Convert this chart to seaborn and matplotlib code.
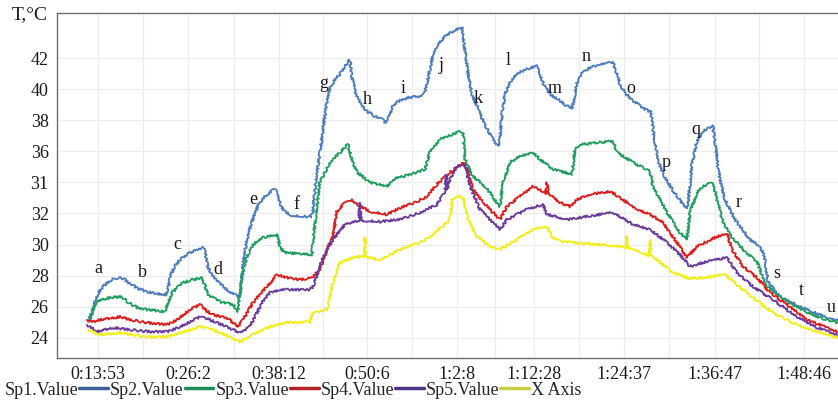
import numpy as np
import pandas as pd
import seaborn as sns
import matplotlib.pyplot as plt
from matplotlib.lines import Line2D

# Sensor readings: elapsed time (s) and temperature (°C)
t_sp1 = [753, 777, 801, 833, 874, 930, 995, 1043, 1067, 1107, 1156, 1228, 1309, 1382, 1398, 1422,
         1462, 1511, 1575, 1640, 1680, 1696, 1720, 1761, 1817, 1882, 1938, 1970, 1986, 2003, 2035,
         2075, 2124, 2180, 2236, 2261, 2285, 2309, 2341, 2398, 2478, 2551, 2567, 2591, 2615, 2640,
         2672, 2704, 2752, 2801, 2849, 2865, 2881, 2914, 2954, 3002, 3067, 3123, 3156, 3180, 3212,
         3269, 3349, 3430, 3470, 3494, 3527, 3575, 3640, 3704, 3769, 3785, 3818, 3849, 3898, 3954,
         4010, 4059, 4075, 4091, 4115, 4156, 4220, 4293, 4373, 4398, 4430, 4478, 4543, 4607, 4656,
         4672, 4696, 4744, 4825, 4906, 4986, 5010, 5043, 5091, 5164, 5244, 5293, 5309, 5333, 5365,
         5414, 5470, 5526, 5583, 5599, 5623, 5663, 5712, 5768, 5792, 5817, 5849, 5889, 5970, 6091,
         6172, 6204, 6236, 6333, 6494, 6655, 6801]
sp1 = [25.03, 25.29, 26.13, 26.84, 27.29, 27.68, 27.87, 27.81, 27.61, 27.42, 27.16, 26.97, 26.84,
       26.77, 27.10, 28.13, 28.71, 29.16, 29.48, 29.68, 29.81, 29.55, 28.52, 27.94, 27.48, 27.03,
       26.77, 26.58, 27.10, 28.84, 30.32, 31.48, 32.52, 33.10, 33.48, 33.55, 33.23, 32.45, 32.13,
       31.87, 31.81, 31.81, 32.13, 34.19, 35.48, 36.97, 38.84, 40.13, 40.65, 41.16, 41.74, 41.87,
       40.77, 39.68, 39.03, 38.58, 38.26, 38.06, 37.81, 38.19, 38.97, 39.29, 39.48, 39.55, 39.81,
       40.65, 41.94, 42.90, 43.48, 43.74, 44.00, 42.90, 40.97, 39.68, 38.71, 37.68, 36.90, 36.32,
       36.77, 38.39, 39.68, 40.45, 41.03, 41.29, 41.48, 40.97, 40.26, 39.68, 39.35, 38.97, 38.71,
       39.35, 40.39, 41.10, 41.48, 41.61, 41.74, 41.16, 40.32, 39.68, 39.16, 38.71, 38.52, 37.42,
       36.13, 35.03, 34.19, 33.48, 32.84, 32.32, 33.23, 35.16, 36.65, 37.29, 37.55, 37.61, 36.13,
       34.19, 32.90, 31.61, 30.32, 29.87, 29.35, 27.61, 26.65, 26.00, 25.48, 25.10]

t_sp2 = [753, 785, 809, 849, 930, 1027, 1067, 1148, 1228, 1374, 1398, 1438, 1519, 1599, 1672, 1688,
         1720, 1817, 1922, 1962, 1994, 2035, 2083, 2164, 2277, 2301, 2341, 2438, 2559, 2567, 2591,
         2623, 2704, 2785, 2849, 2881, 2922, 3027, 3164, 3212, 3406, 3470, 3510, 3591, 3753, 3777,
         3793, 3857, 3938, 3994, 4059, 4075, 4099, 4156, 4236, 4341, 4398, 4502, 4656, 4680, 4744,
         4881, 4986, 5018, 5147, 5285, 5309, 5422, 5526, 5583, 5607, 5663, 5712, 5784, 5817, 5865,
         5930, 6051, 6147, 6172, 6212, 6333, 6494, 6655, 6801]
sp2 = [25.10, 25.61, 26.13, 26.45, 26.58, 26.65, 26.32, 25.94, 25.81, 25.68, 26.26, 26.97, 27.55,
       27.74, 27.87, 27.55, 26.77, 26.32, 26.13, 25.68, 27.94, 29.23, 30.00, 30.45, 30.65, 29.81,
       29.48, 29.42, 29.35, 30.13, 31.94, 34.00, 35.29, 35.93, 36.45, 35.48, 34.65, 34.00, 33.74,
       34.19, 34.65, 34.84, 35.93, 36.77, 37.29, 37.23, 35.48, 34.39, 33.87, 33.35, 32.58, 32.45,
       34.00, 35.29, 35.68, 35.93, 35.48, 34.84, 34.52, 36.13, 36.45, 36.58, 36.65, 35.93, 35.29,
       34.71, 33.74, 32.06, 30.77, 30.32, 32.06, 33.35, 33.74, 34.00, 33.23, 31.61, 30.65, 29.55,
       28.90, 28.39, 27.42, 26.65, 25.87, 25.29, 24.97]

t_sp3 = [745, 793, 849, 1011, 1091, 1228, 1390, 1470, 1575, 1656, 1696, 1761, 1874, 1962, 2003,
         2083, 2196, 2277, 2357, 2462, 2559, 2623, 2680, 2728, 2760, 2809, 2881, 2922, 3027, 3164,
         3244, 3406, 3486, 3567, 3672, 3777, 3818, 3857, 3970, 4075, 4131, 4236, 4341, 4422, 4446,
         4454, 4462, 4559, 4640, 4696, 4801, 4962, 5043, 5147, 5285, 5389, 5502, 5583, 5663, 5825,
         5906, 5946, 6035, 6147, 6252, 6414, 6551, 6712, 6801]
sp3 = [25.16, 25.03, 25.16, 25.35, 25.16, 24.97, 24.84, 25.16, 25.81, 26.13, 25.81, 25.48, 25.29,
       24.71, 25.16, 26.26, 27.29, 28.06, 27.87, 27.74, 27.87, 28.39, 29.68, 30.52, 32.13, 32.58,
       32.90, 32.58, 32.13, 31.94, 32.26, 32.77, 33.10, 33.87, 34.65, 35.29, 34.65, 33.55, 32.45,
       31.61, 32.45, 33.10, 33.74, 33.42, 33.30, 34.00, 33.25, 32.71, 32.45, 32.90, 33.23, 33.42,
       33.03, 32.39, 31.94, 31.42, 30.13, 29.16, 29.87, 30.52, 30.65, 29.68, 28.58, 27.87, 26.90,
       26.00, 25.16, 24.65, 24.39]

t_sp4 = [745, 825, 954, 1091, 1253, 1390, 1495, 1656, 1736, 1874, 1978, 2059, 2156, 2220, 2301,
         2543, 2567, 2648, 2728, 2825, 2938, 2946, 2954, 3107, 3269, 3430, 3567, 3632, 3640, 3648,
         3672, 3728, 3793, 3834, 3914, 4075, 4131, 4293, 4422, 4454, 4615, 4776, 4986, 5043, 5147,
         5285, 5422, 5526, 5607, 5744, 5906, 5986, 6115, 6276, 6470, 6631, 6801]
sp4 = [24.84, 24.39, 24.65, 24.52, 24.39, 24.39, 24.71, 25.35, 25.16, 24.71, 24.32, 24.71, 26.26,
       26.90, 27.10, 27.10, 27.29, 29.16, 30.32, 31.29, 31.55, 32.70, 31.55, 31.48, 31.61, 32.06,
       32.58, 33.40, 34.50, 33.55, 34.19, 35.03, 35.16, 33.74, 32.26, 30.97, 31.61, 32.26, 32.58,
       31.94, 31.61, 31.81, 32.06, 31.81, 31.29, 30.97, 30.13, 29.35, 28.60, 28.90, 29.16, 28.19,
       27.29, 26.45, 25.35, 24.65, 24.19]

t_sp5 = [753, 849, 1011, 1228, 1390, 1495, 1656, 1761, 1898, 1978, 2115, 2220, 2357, 2543, 2567,
         2680, 2728, 2785, 2922, 2978, 2986, 2994, 3107, 3269, 3430, 3535, 3672, 3688, 3728, 3777,
         3818, 3890, 3994, 4075, 4212, 4341, 4454, 4494, 4559, 4881, 5043, 5091, 5099, 5107, 5147,
         5277, 5285, 5293, 5309, 5470, 5607, 5744, 5889, 5986, 6115, 6276, 6470, 6631, 6801]
sp5 = [24.52, 24.19, 24.32, 24.06, 24.06, 24.32, 24.71, 24.52, 24.06, 23.74, 24.32, 24.71, 24.97,
       25.03, 25.61, 25.81, 27.55, 28.84, 29.23, 29.20, 30.45, 29.20, 29.03, 29.68, 30.13, 30.65,
       31.61, 32.90, 33.10, 33.03, 31.61, 30.52, 29.87, 29.68, 30.32, 30.97, 31.16, 30.52, 30.19,
       30.00, 29.87, 29.80, 30.55, 29.78, 29.68, 29.30, 30.30, 29.28, 29.23, 28.19, 27.80, 27.90,
       28.06, 27.42, 26.58, 25.61, 24.84, 24.39, 24.00]

series_names = ["Sp1.Value", "Sp2.Value", "Sp3.Value", "Sp4.Value", "Sp5.Value"]
line_colors = ["#4d7cc0", "#1f9e5e", "#e01b1b", "#6a3a9e", "#f2ee1c"]
legend_colors = ["#3d5f99", "#1f8a5a", "#b22424", "#4f3585", "#c9cc44"]

# Time axis labels (seconds since start)
tick_seconds = [833, 1562, 2292, 3006, 3728, 4348, 5077, 5807, 6526]

# Stage markers a–u placed beside the sensor curves
stage_labels = [("a", 833, 28.45), ("b", 1196, 28.19), ("c", 1470, 30.0), ("d", 1801, 28.39),
                ("e", 2083, 32.90), ("f", 2430, 32.58), ("g", 2656, 40.39), ("h", 3002, 39.35),
                ("i", 3293, 40.06), ("j", 3599, 41.55), ("k", 3898, 39.42), ("l", 4140, 41.87),
                ("m", 4519, 40.06), ("n", 4769, 42.13), ("o", 5131, 40.06), ("p", 5414, 35.29),
                ("q", 5655, 37.42), ("r", 6002, 32.71), ("s", 6309, 28.13), ("t", 6502, 27.03),
                ("u", 6744, 25.94)]

y_ticks = [24, 26, 28, 30, 32, 34, 36, 38, 40, 42]
y_tick_labels = ["24", "26", "28", "30", "32", "31", "36", "38", "40", "42"]


def hms(sec):
    return f"{sec // 3600}:{sec % 3600 // 60}:{sec % 60}"


frames = []
for name, t, v in zip(series_names, [t_sp1, t_sp2, t_sp3, t_sp4, t_sp5], [sp1, sp2, sp3, sp4, sp5]):
    frames.append(pd.DataFrame({"time": t, "temp": v, "series": name}))
df = pd.concat(frames, ignore_index=True)

sns.set_theme(style="white")
plt.rcParams["font.family"] = ["Liberation Serif", "DejaVu Serif"]

fig = plt.figure(figsize=(8.38, 4.01), dpi=100)
ax = fig.add_axes([57 / 838, 43 / 401, 1 - 57 / 838, 345 / 401])

sns.lineplot(data=df, x="time", y="temp", hue="series", palette=dict(zip(series_names, line_colors)),
             estimator=None, sort=False, linewidth=1.3, legend=False, ax=ax)
for ln in ax.lines:
    ln.set_sketch_params(scale=1.1, length=2.0, randomness=4)

ax.set_xlim(503, 6801)
ax.set_ylim(22.7, 44.9)

minor_x = [(a + b) / 2 for a, b in zip(tick_seconds[:-1], tick_seconds[1:])]
ax.set_xticks(tick_seconds)
ax.set_xticklabels([hms(s) for s in tick_seconds], fontsize=13)
ax.set_xticks(minor_x, minor=True)
ax.set_yticks(y_ticks)
ax.set_yticklabels(y_tick_labels, fontsize=13)
ax.set_yticks(np.arange(23.0, 44.9, 0.5), minor=True)

ax.grid(True, which="both", axis="x", color="#ececec", linewidth=0.8)
ax.grid(True, which="major", axis="y", color="#ececec", linewidth=0.8)
ax.set_axisbelow(True)
ax.set_xlabel("")
ax.set_ylabel("")

for side in ["left", "top", "bottom"]:
    ax.spines[side].set_color("#6e6e6e")
    ax.spines[side].set_linewidth(1.0)
ax.spines["right"].set_visible(False)
ax.tick_params(axis="both", which="major", direction="out", length=4, width=0.8, color="#6e6e6e",
               pad=2, labelcolor="#1a1a1a")
ax.tick_params(axis="both", which="minor", direction="out", length=2.5, width=0.7, color="#6e6e6e")
ax.tick_params(axis="x", which="minor", length=4)

for letter, tx, ty in stage_labels:
    ax.text(tx, ty, letter, fontsize=13, ha="center", va="center", color="#1a1a1a")

fig.text(12 / 838, 1 - 15 / 401, "T,°C", fontsize=14, ha="left", va="center", color="#1a1a1a")

handles = [Line2D([], [], color=c, lw=2.5) for c in legend_colors]
handles.append(Line2D([], [], color="none"))
fig.legend(handles, series_names + ["X Axis"], loc="lower left", bbox_to_anchor=(-0.003, -0.012),
           ncol=6, markerfirst=False, frameon=False, fontsize=13, handlelength=1.6,
           handletextpad=0.05, columnspacing=0.1, borderaxespad=0.0)

fig.savefig("out.png", dpi=100)
